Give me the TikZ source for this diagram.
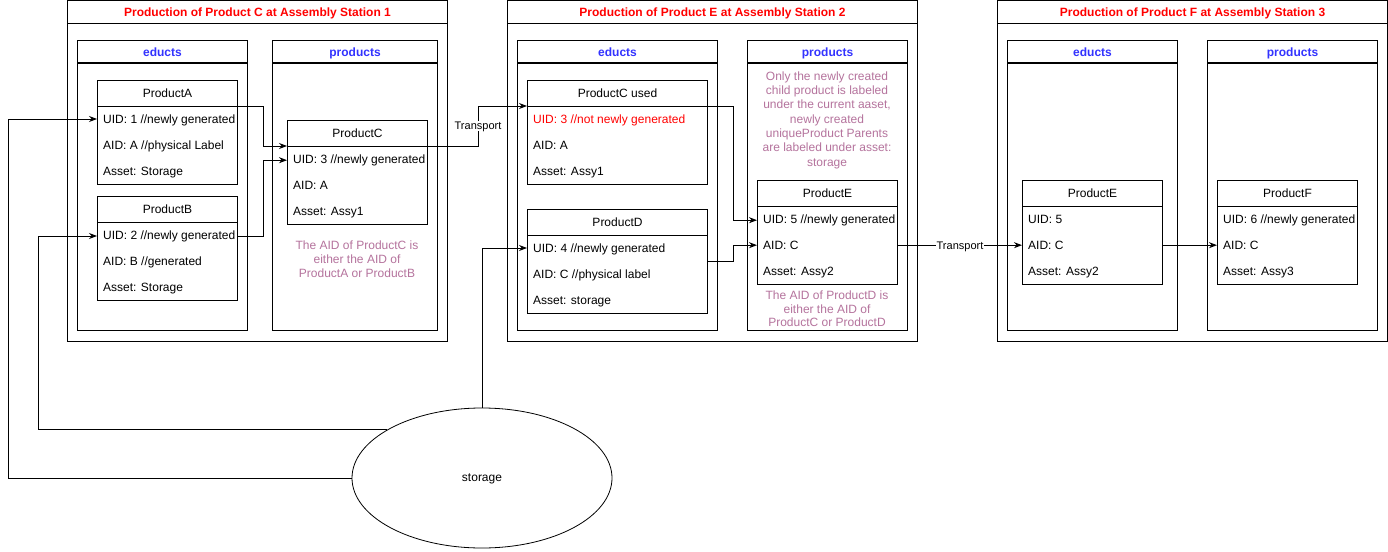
\documentclass[tikz,border=0pt]{standalone}
\usepackage{fontspec}
\setmainfont{Liberation Sans}
\usetikzlibrary{arrows.meta,shapes.geometric,calc}
\definecolor{titlered}{HTML}{FF0000}
\definecolor{headblue}{HTML}{3333FF}
\definecolor{notepink}{HTML}{B5739D}

\tikzset{
  every node/.style={font=\fontsize{12}{14}\selectfont},
  box/.style={draw, line width=1pt, rectangle, inner sep=0pt, anchor=north west, fill=white},
  stitle/.style={text=titlered, font=\fontsize{12}{14}\selectfont\bfseries},
  shead/.style={text=headblue, font=\fontsize{12}{14}\selectfont\bfseries},
  row/.style={anchor=base west, inner sep=0pt},
  note/.style={text=notepink, align=center, inner sep=0pt},
  conn/.style={line width=1pt, -{Stealth[length=8pt,width=6pt]}},
  tlabel/.style={fill=white, inner sep=1pt, text height=7.9pt, text depth=0pt,
    font=\fontsize{11}{13}\selectfont},
}

% framed panel with a header strip: name, width, height, x, y, text, text style
\newcommand\panel[7]{%
  \node[box, minimum width=#2pt, minimum height=#3pt] (#1) at (#4,#5) {};
  \draw[line width=1pt] ([yshift=-23pt]#1.north west) -- ([yshift=-23pt]#1.north east);
  \node[#7, anchor=base, inner sep=0pt] (#1-t) at ([yshift=-16.3pt]#1.north) {#6};
}

% product record: name, width, x, y, title, uid, aid, asset
\newcommand\prodbox[8]{%
  \node[box, minimum width=#2pt, minimum height=104pt] (#1) at (#3,#4) {};
  \coordinate (#1-sl) at ([yshift=-26pt]#1.north west);
  \coordinate (#1-sr) at ([yshift=-26pt]#1.north east);
  \draw[line width=1pt] (#1-sl) -- (#1-sr);
  \node[anchor=base, inner sep=0pt] (#1-h) at ([yshift=-17.3pt]#1.north) {#5};
  \begin{scope}
    \clip (#1.north west) rectangle ([xshift=-3.5pt]#1.south east);
    \node[row] (#1-u) at ([xshift=6pt,yshift=-43.3pt]#1.north west) {#6};
    \node[row] (#1-a) at ([xshift=6pt,yshift=-69.3pt]#1.north west) {#7};
    \node[row] (#1-s) at ([xshift=6pt,yshift=-95.3pt]#1.north west) {#8};
  \end{scope}
}

\begin{document}
\begin{tikzpicture}[x=1pt,y=-1pt]
\useasboundingbox (0,0) rectangle (1388,551);

% assembly station 1
\panel{st1}{380}{340}{67}{0.5}{Production of Product C at Assembly Station 1}{stitle}
\panel{e1}{170}{290}{77}{40}{educts}{shead}
\panel{p1}{165}{290}{272}{40}{products}{shead}
\prodbox{pA}{140}{97}{80}{ProductA}{UID: 1 //newly generated}{AID: A //physical Label}{Asset: Storage}
\prodbox{pB}{140}{97}{196}{ProductB}{UID: 2 //newly generated}{AID: B //generated}{Asset: Storage}
\prodbox{pC}{140}{287}{120}{ProductC}{UID: 3 //newly generated}{AID: A}{Asset: Assy1}
\node[note] (n1) at (357,259) {The AID of ProductC is\\either the AID of\\ProductA or ProductB};

% assembly station 2
\panel{st2}{410}{340}{507}{0.5}{Production of Product E at Assembly Station 2}{stitle}
\panel{e2}{200}{290}{517}{40}{educts}{shead}
\panel{p2}{160}{290}{747}{40}{products}{shead}
\prodbox{pCu}{180}{527}{80}{ProductC used}{\textcolor{titlered}{UID: 3 //not newly generated}}{AID: A}{Asset: Assy1}
\prodbox{pD}{180}{527}{209}{ProductD}{UID: 4 //newly generated}{AID: C //physical label}{Asset: storage}
\prodbox{pE}{140}{757}{180}{ProductE}{UID: 5 //newly generated}{AID: C}{Asset: Assy2}
\node[note, font=\fontsize{12}{14.3}\selectfont] (n2) at (827,120) {Only the newly created\\child product is labeled\\under the current aaset,\\newly created\\uniqueProduct Parents\\are labeled under asset:\\storage};
\node[note, font=\fontsize{12}{13.6}\selectfont] (n3) at (827,309) {The AID of ProductD is\\either the AID of\\ProductC or ProductD};

% assembly station 3
\panel{st3}{390}{340}{997}{0.5}{Production of Product F at Assembly Station 3}{stitle}
\panel{e3}{170}{290}{1007}{40}{educts}{shead}
\panel{p3}{170}{290}{1207}{40}{products}{shead}
\prodbox{pE2}{140}{1022}{180}{ProductE}{UID: 5}{AID: C}{Asset: Assy2}
\prodbox{pF}{140}{1217}{180}{ProductF}{UID: 6 //newly generated}{AID: C}{Asset: Assy3}

% storage
\node[draw, ellipse, line width=0.8pt, minimum width=260pt, minimum height=140pt, inner sep=0pt,
  text height=6.2pt, text depth=0pt] (st) at (482,478) {storage};

% material flow
\draw[conn] (pA-sr) -- ++(25,0) |- (pC-sl);
\draw[conn] (pB.east |- pB-u) -- ++(25,0) |- (pC.west |- pC-u);
\draw[conn] (pC-sr) -- ++(50,0) |- node[tlabel, pos=0.25] {Transport} (pCu-sl);
\draw[conn] (pCu-sr) -- ++(25,0) |- (pE.west |- pE-u);
\draw[conn] (pD.east) -- ++(25,0) |- (pE.west |- pE-a);
\draw[conn] (pE.east |- pE-a) -- node[tlabel] {Transport} (pE2.west |- pE2-a);
\draw[conn] (pE2.east |- pE2-a) -- (pF.west |- pF-a);

\draw[conn] (st.west) -| (8,119) -- (pA.west |- 0,119);
\draw[conn] (st.153) -| (38,236) -- (pB.west |- 0,236);
\draw[conn] (st.north) |- (pD.west |- 0,248);
\end{tikzpicture}
\end{document}
